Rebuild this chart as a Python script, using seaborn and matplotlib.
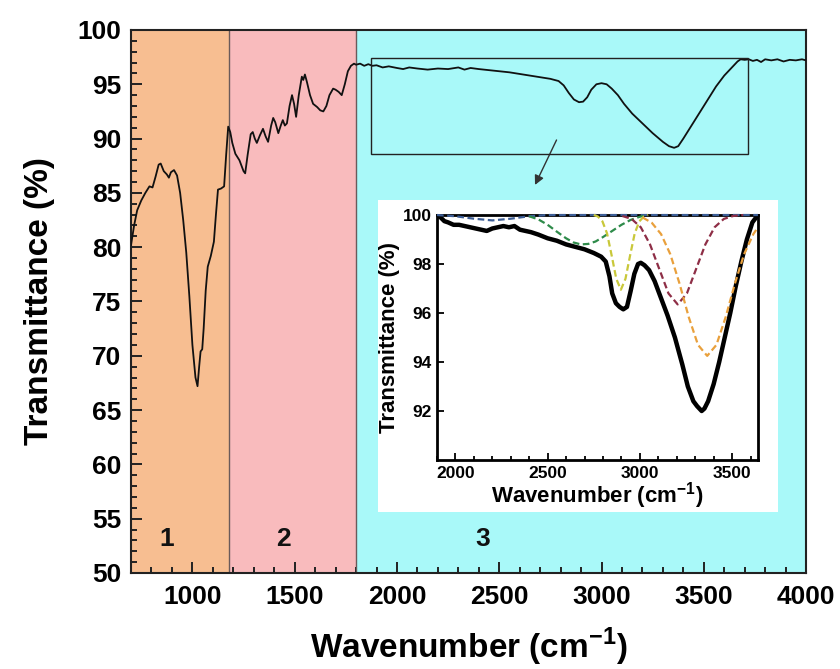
import matplotlib
matplotlib.use("Agg")
import matplotlib.pyplot as plt
from matplotlib.patches import Rectangle
from matplotlib.ticker import MultipleLocator
import seaborn as sns

# main FTIR spectrum (wavenumber, transmittance)
wn = [700, 715, 730, 750, 770, 790, 805, 820, 835, 845, 860, 875, 885, 895, 910, 925,
      940, 955, 970, 985, 1000, 1015, 1025, 1033, 1040, 1048, 1055, 1065, 1075, 1090,
      1105, 1115, 1125, 1140, 1155, 1165, 1175, 1185, 1195, 1210, 1230, 1250, 1258,
      1270, 1285, 1295, 1305, 1315, 1330, 1345, 1358, 1370, 1385, 1395, 1405, 1420,
      1432, 1442, 1452, 1462, 1475, 1487, 1497, 1507, 1520, 1535, 1542, 1550, 1560,
      1575, 1590, 1610, 1625, 1640, 1655, 1670, 1688, 1700, 1715, 1730, 1745, 1760,
      1775, 1790, 1800, 1820, 1840, 1860, 1880, 1900, 1930, 1960, 2000, 2030, 2060,
      2100, 2150, 2200, 2250, 2300, 2330, 2360, 2400, 2450, 2500, 2550, 2600, 2650,
      2700, 2750, 2790, 2815, 2840, 2865, 2890, 2910, 2930, 2950, 2975, 3000, 3025,
      3050, 3080, 3110, 3150, 3200, 3250, 3300, 3330, 3355, 3375, 3400, 3440, 3480,
      3520, 3560, 3600, 3640, 3665, 3680, 3700, 3720, 3740, 3760, 3780, 3800, 3830,
      3860, 3890, 3920, 3950, 3980, 4000]
trans = [80.2, 82.0, 83.4, 84.3, 85.0, 85.6, 85.5, 86.5, 87.6, 87.7, 87.0, 86.7, 86.4,
         86.9, 87.1, 86.6, 85.0, 82.5, 79.5, 75.5, 71.0, 68.0, 67.2, 69.0, 70.4, 70.6,
         72.5, 76.0, 78.2, 79.2, 80.5, 83.0, 85.3, 85.4, 85.6, 88.5, 91.1, 90.6, 89.6,
         88.6, 88.0, 87.0, 86.8, 88.5, 90.4, 90.6, 90.0, 89.6, 90.3, 90.9, 90.2, 89.7,
         91.2, 91.9, 91.5, 90.5, 91.2, 91.7, 91.2, 91.4, 93.0, 94.0, 93.2, 92.0, 94.0,
         95.7, 95.4, 95.9, 95.2, 94.0, 93.2, 92.9, 92.6, 92.5, 93.0, 94.0, 94.6, 94.5,
         94.3, 94.0, 95.0, 96.2, 96.7, 96.9, 96.8, 96.9, 96.7, 96.85, 96.7, 96.75,
         96.55, 96.65, 96.5, 96.4, 96.55, 96.45, 96.35, 96.45, 96.4, 96.55, 96.35,
         96.5, 96.4, 96.3, 96.2, 96.1, 95.95, 95.8, 95.65, 95.5, 95.3, 94.9, 94.2,
         93.6, 93.35, 93.4, 93.8, 94.5, 95.0, 95.1, 95.0, 94.6, 94.0, 93.2, 92.3,
         91.4, 90.5, 89.7, 89.3, 89.15, 89.3, 90.0, 91.2, 92.4, 93.6, 94.8, 95.8,
         96.6, 97.1, 97.3, 97.25, 97.3, 97.15, 97.25, 97.05, 97.3, 97.2, 97.3, 97.1,
         97.25, 97.2, 97.3, 97.2]

regions = ["1", "2", "3"]
region_edges = [700, 1180, 1800, 4000]
region_colors = ["#F7BE91", "#F9BBBD", "#A9F9F9"]
region_label_x = [875, 1445, 2420]

# inset: measured band and fitted components
in_wn = [1900, 1920, 1940, 1960, 1990, 2020, 2050, 2080, 2110, 2140, 2170, 2200, 2230,
         2260, 2290, 2320, 2350, 2380, 2410, 2450, 2500, 2550, 2600, 2650, 2700, 2750,
         2790, 2815, 2835, 2850, 2870, 2890, 2910, 2930, 2950, 2970, 2990, 3005, 3025,
         3050, 3080, 3110, 3150, 3190, 3230, 3260, 3290, 3310, 3335, 3350, 3370, 3400,
         3430, 3460, 3490, 3520, 3550, 3580, 3610, 3640]
in_tr = [100.0, 99.9, 99.75, 99.7, 99.6, 99.6, 99.55, 99.5, 99.45, 99.4, 99.35, 99.45,
         99.5, 99.55, 99.5, 99.55, 99.4, 99.35, 99.3, 99.2, 99.05, 98.95, 98.8, 98.7,
         98.6, 98.45, 98.3, 98.1, 97.5, 96.8, 96.4, 96.25, 96.15, 96.25, 96.9, 97.6,
         98.0, 98.05, 97.95, 97.75, 97.3, 96.7, 95.9, 95.0, 93.9, 93.0, 92.4, 92.2,
         92.0, 92.1, 92.4, 93.1, 94.0, 95.0, 96.0, 97.1, 98.1, 99.0, 99.7, 100.0]

blue_wn = [1900, 2000, 2100, 2200, 2300, 2400, 2500, 3000, 3640]
blue_tr = [100.0, 99.95, 99.85, 99.78, 99.85, 99.95, 100.0, 100.0, 100.0]
green_wn = [2400, 2450, 2500, 2550, 2600, 2640, 2680, 2720, 2760, 2800, 2850, 2900,
            2950, 3000, 3040]
green_tr = [99.95, 99.82, 99.6, 99.32, 99.05, 98.88, 98.8, 98.82, 98.92, 99.1, 99.35,
            99.6, 99.8, 99.93, 100.0]
yellow_wn = [2750, 2772, 2797, 2822, 2847, 2872, 2897, 2922, 2947, 2972, 2997, 3022, 3045]
yellow_tr = [100.0, 99.94, 99.74, 99.25, 98.35, 97.4, 96.95, 97.4, 98.35, 99.25, 99.74,
             99.94, 100.0]
maroon_wn = [2905, 2955, 3005, 3055, 3105, 3155, 3205, 3255, 3305, 3355, 3405, 3455, 3505,
             3560]
maroon_tr = [99.96, 99.84, 99.5, 98.8, 97.8, 96.8, 96.35, 96.8, 97.8, 98.8, 99.5, 99.84,
             99.96, 100.0]
orange_wn = [3015, 3065, 3115, 3165, 3215, 3265, 3315, 3365, 3415, 3465, 3515, 3565, 3615,
             3640]
orange_tr = [99.9, 99.68, 99.22, 98.4, 97.2, 95.83, 94.7, 94.25, 94.7, 95.83, 97.2, 98.4,
             99.22, 99.5]
components = [(blue_wn, blue_tr, "#3D5E96"), (green_wn, green_tr, "#2E8B4A"),
              (yellow_wn, yellow_tr, "#C9C83A"), (maroon_wn, maroon_tr, "#8E2E46"),
              (orange_wn, orange_tr, "#E9A03C")]

sns.set_theme(style="ticks")
plt.rcParams['font.family'] = ['Liberation Sans', 'DejaVu Sans']
plt.rcParams['font.weight'] = 'bold'
plt.rcParams['axes.labelweight'] = 'bold'
plt.rcParams['text.color'] = 'black'
plt.rcParams['axes.labelcolor'] = 'black'
plt.rcParams['xtick.labelcolor'] = 'black'
plt.rcParams['ytick.labelcolor'] = 'black'
plt.rcParams['mathtext.fontset'] = 'custom'
plt.rcParams['mathtext.rm'] = 'Liberation Sans:bold'
plt.rcParams['mathtext.bf'] = 'Liberation Sans:bold'

fig = plt.figure(figsize=(8.4, 6.69), dpi=100)
ax = fig.add_axes([0.156, 0.1435, 0.8036, 0.8117])

for i, lab in enumerate(regions):
    ax.axvspan(region_edges[i], region_edges[i + 1], color=region_colors[i], lw=0, zorder=0)
    ax.text(region_label_x[i], 53.1, lab, ha='center', va='center', fontsize=19,
            fontweight='bold', color='#111111')
for edge in region_edges[1:3]:
    ax.axvline(edge, color='#6a5a5a', lw=1, zorder=1)

sns.lineplot(x=wn, y=trans, ax=ax, color='#111111', lw=1.3, zorder=3)

ax.add_patch(Rectangle((1874, 88.6), 1843, 8.8, fill=False, ec='#222222', lw=1, zorder=4))
ax.annotate("", xy=(2669, 85.5), xytext=(2786, 90.1),
            arrowprops=dict(arrowstyle='-|>', color='#333333', lw=1, mutation_scale=14))
ax.add_patch(Rectangle((1908, 55.6), 1956, 28.75, fc='white', ec='none', zorder=2))

ax.set_xlim(700, 4000)
ax.set_ylim(50, 100)
ax.xaxis.set_major_locator(MultipleLocator(500))
ax.xaxis.set_minor_locator(MultipleLocator(100))
ax.yaxis.set_major_locator(MultipleLocator(5))
ax.yaxis.set_minor_locator(MultipleLocator(1))
ax.set_xticks([1000, 1500, 2000, 2500, 3000, 3500, 4000])
ax.tick_params(which='both', direction='in', top=False, right=False, color='#222222', width=1.4)
ax.tick_params(which='major', length=8, labelsize=19, pad=9)
ax.tick_params(which='minor', length=4)
ax.tick_params(axis='y', pad=7)
for s in ax.spines.values():
    s.set_color('#222222')
    s.set_linewidth(1.5)
ax.set_xlabel(r"Wavenumber (cm$^{-1}$)", fontsize=24, labelpad=12)
ax.set_ylabel("Transmittance (%)", fontsize=24, labelpad=16)

# inset
axin = fig.add_axes([0.5202, 0.3124, 0.3821, 0.3662])
axin.set_facecolor('white')
sns.lineplot(x=in_wn, y=in_tr, ax=axin, color='black', lw=3.2, zorder=3)
for cx, cy, col in components:
    sns.lineplot(x=cx, y=cy, ax=axin, color=col, lw=1.6, linestyle=(0, (3, 1.6)), zorder=4,
                 clip_on=False)
axin.set_xlim(1900, 3640)
axin.set_ylim(90, 100)
axin.xaxis.set_major_locator(MultipleLocator(500))
axin.xaxis.set_minor_locator(MultipleLocator(100))
axin.set_yticks([92, 94, 96, 98, 100])
axin.tick_params(which='both', direction='in', top=False, right=False, color='black', width=1.3)
axin.tick_params(which='major', length=5, labelsize=12.5, pad=4)
axin.tick_params(which='minor', length=3)
for s in axin.spines.values():
    s.set_color('black')
    s.set_linewidth(2)
axin.set_xlabel(r"Wavenumber (cm$^{-1}$)", fontsize=16, labelpad=0)
axin.set_ylabel("Transmittance (%)", fontsize=16, labelpad=2)

fig.savefig("out.png", dpi=100)
